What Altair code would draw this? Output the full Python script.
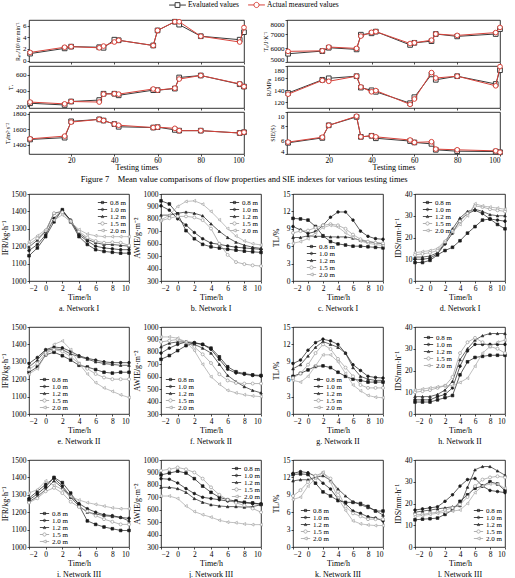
import altair as alt
import pandas as pd

SERIF = "Liberation Serif"

# ---------------- Figure 7: mean values vs testing times ----------------
TEST_TIMES = [1, 17, 20, 33, 35, 40, 42, 58, 60, 68, 70, 80, 98, 100]
RM_EVAL = [1.2, 2.1, 2.4, 2.3, 2.2, 3.6, 3.5, 2.6, 5.2, 6.7, 6.2, 4.2, 3.6, 4.9]
RM_ACT = [1.4, 2.3, 2.4, 2.2, 2.5, 3.2, 3.5, 2.6, 5.2, 6.7, 6.7, 4.2, 3.2, 5.7]
TR_EVAL = [240, 218, 262, 280, 360, 360, 340, 405, 405, 425, 565, 590, 480, 450]
TR_ACT = [255, 232, 262, 255, 355, 360, 355, 420, 405, 430, 545, 590, 485, 450]
TT_EVAL = [1467, 1490, 1700, 1725, 1710, 1665, 1630, 1620, 1625, 1590, 1580, 1580, 1550, 1560]
TT_ACT = [1475, 1510, 1690, 1725, 1710, 1665, 1650, 1620, 1625, 1610, 1580, 1580, 1550, 1560]
TS_EVAL = [5590, 5780, 6020, 5900, 6950, 7050, 7170, 6220, 6370, 6490, 7000, 6830, 7000, 7350]
TS_ACT = [5760, 5800, 6070, 5970, 6850, 7120, 7170, 6320, 6370, 6560, 7000, 6900, 7100, 7470]
RI_EVAL = [135, 157, 159.5, 163, 144, 139.5, 137, 118, 128, 166, 157, 163, 150, 173]
RI_ACT = [133, 156, 154.5, 163, 145, 137, 139, 116, 125, 169, 160, 163, 147, 179]
SIE_EVAL = [5.6, 6.3, 8.1, 9.3, 6.45, 6.6, 6.25, 5.85, 5.65, 5.45, 4.6, 4.4, 4.35, 4.25]
SIE_ACT = [5.7, 6.4, 8.1, 9.4, 6.45, 6.6, 6.45, 6.0, 5.65, 5.75, 4.7, 4.6, 4.45, 4.25]

TOP_SERIES = ["Evaluated values", "Actual measured values"]

# ---------------- Network panels: hourly values per depth ----------------
HOURS = list(range(-2, 11))
DEPTHS = ["0.8 m", "1.0 m", "1.2 m", "1.5 m", "2.0 m"]

IFR_I = [
    [1145, 1190, 1255, 1340, 1410, 1340, 1255, 1210, 1180, 1170, 1165, 1160, 1160],
    [1175, 1210, 1265, 1360, 1405, 1350, 1265, 1230, 1200, 1190, 1185, 1180, 1180],
    [1195, 1235, 1285, 1390, 1400, 1350, 1275, 1240, 1220, 1210, 1210, 1205, 1200],
    [1210, 1245, 1290, 1390, 1395, 1345, 1285, 1250, 1230, 1220, 1222, 1220, 1205],
    [1225, 1260, 1295, 1350, 1380, 1340, 1295, 1270, 1260, 1255, 1255, 1255, 1255],
]
AWIE_I = [
    [945, 920, 840, 705, 640, 595, 575, 565, 555, 548, 540, 535, 530],
    [905, 870, 800, 750, 690, 640, 605, 595, 582, 572, 566, 560, 555],
    [830, 830, 845, 855, 845, 825, 760, 700, 650, 612, 588, 572, 562],
    [785, 805, 820, 820, 812, 790, 722, 600, 510, 452, 436, 426, 420],
    [790, 830, 900, 940, 945, 918, 860, 792, 722, 662, 622, 600, 590],
]
TL_I = [
    [10.8, 10.7, 10.5, 9.4, 7.8, 6.8, 6.4, 6.2, 6.0, 6.0, 5.9, 5.8, 5.7],
    [9.4, 8.8, 8.2, 8.5, 9.6, 11.0, 11.9, 11.9, 10.5, 8.6, 7.7, 7.3, 7.2],
    [7.5, 7.5, 7.8, 7.7, 7.7, 7.6, 7.6, 7.6, 7.4, 7.0, 6.8, 6.6, 6.4],
    [8.3, 8.6, 8.7, 9.2, 9.6, 9.8, 9.6, 9.0, 8.0, 7.2, 6.8, 6.6, 6.5],
    [6.5, 6.8, 7.3, 8.3, 9.2, 9.6, 9.3, 8.3, 7.5, 6.9, 6.5, 6.3, 6.1],
]
IDS_I = [
    [8.5, 8.5, 9.5, 12.0, 14.0, 15.5, 18.5, 22.0, 25.0, 28.0, 28.5, 26.0, 24.0],
    [10.0, 10.0, 10.5, 12.5, 17.0, 22.0, 28.0, 31.0, 32.5, 31.0, 28.5, 28.0, 27.5],
    [11.0, 11.0, 11.5, 13.0, 17.5, 24.0, 29.0, 32.0, 33.0, 32.0, 30.5, 30.0, 30.0],
    [12.0, 12.5, 13.0, 14.0, 18.0, 23.0, 27.5, 31.0, 34.5, 34.0, 33.0, 32.5, 32.0],
    [13.0, 13.5, 14.0, 15.0, 18.5, 22.5, 26.0, 30.0, 35.5, 34.5, 34.0, 33.5, 33.0],
]
IFR_II = [
    [1240, 1270, 1340, 1355, 1335, 1310, 1280, 1270, 1255, 1240, 1235, 1240, 1240],
    [1290, 1325, 1370, 1385, 1380, 1360, 1335, 1320, 1310, 1300, 1295, 1295, 1295],
    [1270, 1310, 1365, 1375, 1370, 1345, 1330, 1315, 1300, 1290, 1285, 1280, 1280],
    [1255, 1290, 1350, 1370, 1360, 1330, 1290, 1260, 1230, 1210, 1200, 1200, 1200],
    [1230, 1260, 1340, 1400, 1420, 1370, 1290, 1230, 1180, 1150, 1130, 1110, 1095],
]
AWIE_II = [
    [740, 770, 810, 850, 870, 860, 830, 760, 680, 640, 625, 615, 610],
    [790, 830, 860, 880, 875, 860, 820, 740, 660, 630, 620, 610, 605],
    [840, 870, 880, 880, 860, 830, 790, 700, 610, 560, 520, 490, 470],
    [880, 890, 900, 880, 840, 780, 710, 620, 570, 550, 545, 545, 545],
    [920, 920, 910, 880, 810, 700, 600, 540, 490, 470, 455, 445, 440],
]
TL_II = [
    [6.5, 7.0, 7.6, 8.2, 8.3, 8.0, 7.2, 6.5, 6.0, 5.8, 5.5, 5.5, 5.5],
    [8.7, 9.3, 11.0, 12.3, 12.9, 12.6, 12.0, 10.5, 8.5, 7.5, 6.5, 6.3, 6.2],
    [7.8, 8.5, 10.0, 11.5, 12.5, 12.0, 11.5, 10.5, 8.0, 6.5, 6.0, 5.8, 5.8],
    [6.2, 7.0, 8.5, 10.5, 12.0, 11.2, 9.5, 8.0, 6.5, 5.0, 4.5, 4.5, 4.5],
    [5.8, 5.5, 6.5, 8.3, 10.2, 10.2, 9.0, 7.0, 5.0, 4.0, 3.2, 2.9, 2.8],
]
IDS_II = [
    [5.5, 5.5, 5.5, 6.5, 7.5, 8.5, 18.0, 24.0, 26.0, 26.5, 27.0, 27.0, 27.0],
    [6.5, 6.5, 6.5, 8.0, 9.0, 12.0, 22.0, 29.0, 32.0, 32.0, 32.0, 32.0, 32.0],
    [8.0, 8.0, 8.0, 9.0, 11.0, 15.0, 25.0, 30.0, 34.0, 36.0, 37.0, 37.0, 37.0],
    [10.0, 10.5, 11.0, 12.0, 13.0, 17.0, 28.0, 33.0, 35.0, 33.0, 31.0, 30.0, 28.0],
    [11.0, 11.5, 12.0, 12.5, 13.0, 13.0, 14.5, 16.5, 22.0, 28.0, 31.0, 33.0, 34.0],
]
IFR_III = [
    [1270, 1305, 1345, 1400, 1370, 1310, 1240, 1150, 1130, 1115, 1105, 1095, 1095],
    [1280, 1320, 1360, 1395, 1350, 1290, 1250, 1220, 1200, 1185, 1180, 1170, 1165],
    [1260, 1290, 1330, 1380, 1340, 1285, 1235, 1200, 1190, 1180, 1175, 1170, 1150],
    [1255, 1280, 1320, 1340, 1310, 1260, 1230, 1205, 1180, 1160, 1145, 1130, 1130],
    [1310, 1330, 1380, 1355, 1330, 1290, 1270, 1255, 1245, 1235, 1225, 1220, 1220],
]
AWIE_III = [
    [880, 895, 910, 895, 850, 790, 740, 700, 680, 670, 660, 655, 645],
    [850, 845, 815, 770, 730, 700, 690, 680, 670, 665, 655, 650, 645],
    [780, 780, 770, 740, 690, 660, 640, 630, 625, 625, 620, 625, 640],
    [915, 925, 940, 925, 900, 850, 780, 720, 680, 655, 635, 610, 580],
    [710, 710, 690, 630, 585, 560, 540, 515, 500, 495, 485, 480, 480],
]
TL_III = [
    [12.5, 12.6, 12.5, 11.0, 9.5, 8.8, 8.0, 7.7, 7.7, 7.5, 7.0, 6.2, 6.2],
    [12.7, 13.0, 12.8, 12.2, 11.0, 10.0, 8.3, 7.5, 6.2, 5.8, 5.2, 5.0, 4.5],
    [11.4, 11.6, 11.6, 12.0, 12.3, 11.5, 10.0, 8.8, 7.8, 7.3, 6.8, 6.3, 5.5],
    [8.8, 9.8, 11.2, 12.3, 12.8, 11.8, 9.5, 7.0, 5.8, 5.3, 4.8, 4.8, 4.8],
    [8.2, 8.6, 10.5, 11.8, 12.9, 11.2, 8.5, 6.3, 4.5, 4.0, 3.8, 3.7, 3.7],
]
IDS_III = [
    [12.5, 12.8, 13.0, 13.3, 15.0, 17.0, 21.0, 24.0, 27.0, 28.0, 30.0, 29.0, 26.0],
    [17.0, 17.5, 18.0, 18.5, 21.0, 24.0, 28.0, 31.0, 31.5, 28.0, 26.0, 25.5, 25.0],
    [16.0, 16.5, 17.0, 17.5, 18.0, 18.5, 19.0, 27.5, 35.5, 37.0, 37.0, 35.0, 33.0],
    [15.0, 15.0, 15.5, 16.0, 17.0, 18.0, 19.5, 23.0, 28.0, 31.0, 32.0, 32.5, 32.0],
    [14.0, 14.5, 15.0, 15.5, 16.0, 16.5, 17.0, 20.0, 25.0, 28.0, 29.0, 29.0, 27.0],
]

# ---------------- styles ----------------
TOP_COLORS = ["#3a3a3a", "#d8433b"]
TOP_MARKERS = ["square", "circle"]
# legend keys: a short line with the series marker in its middle
TOP_KEYS = [
    "M-2.1,0H-0.6M0.6,0H2.1M-0.6,-0.6H0.6V0.6H-0.6Z",
    "M-2.1,0H-0.65M0.65,0H2.1M-0.65,0A0.65,0.65 0 1,0 0.65,0A0.65,0.65 0 1,0 -0.65,0Z",
]
DEPTH_COLORS = ["#1a1a1a", "#1a1a1a", "#2a2a2a", "#9a9a9a", "#a5a5a5"]
DEPTH_MARKERS = [
    dict(shape="square", fill="#1a1a1a", size=7),
    dict(shape="circle", fill="#1a1a1a", size=7),
    dict(shape="triangle-up", fill="#2a2a2a", size=7),
    dict(shape="circle", fill="white", size=9),
    dict(shape="triangle-left", fill="white", size=9),
]
DEPTH_KEYS = [
    "M-1.7,0H1.7M-0.4,-0.4H0.4V0.4H-0.4Z",
    "M-1.7,0H1.7M-0.42,0A0.42,0.42 0 1,0 0.42,0A0.42,0.42 0 1,0 -0.42,0Z",
    "M-1.7,0H1.7M-0.45,0.4L0,-0.45L0.45,0.4Z",
    "M-1.7,0H-0.6M0.6,0H1.7M-0.6,0A0.6,0.6 0 1,0 0.6,0A0.6,0.6 0 1,0 -0.6,0Z",
    "M-1.7,0H-0.55M0.55,0H1.7M0.6,-0.55L-0.6,0L0.6,0.55Z",
]


def key_layer(base, domain, colors, keys, legend):
    # carries only the legend; its own marks stay transparent
    return base.mark_point(filled=False, opacity=0, strokeWidth=1).encode(
        color=alt.Color("s:N", scale=alt.Scale(domain=domain, range=colors), legend=legend),
        shape=alt.Shape("s:N", scale=alt.Scale(domain=domain, range=keys), legend=legend),
    )


def top_panel(ev, ac, ytitle, ydomain, yticks, width, last_row, key=False):
    n = len(TEST_TIMES)
    df = pd.DataFrame({
        "n": TEST_TIMES * 2,
        "v": ev + ac,
        "s": [TOP_SERIES[0]] * n + [TOP_SERIES[1]] * n,
    })
    xaxis = alt.Axis(values=[20, 40, 60, 80, 100], labels=last_row, format="d",
                     title="Testing times" if last_row else None, labelPadding=0, titlePadding=0)
    base = alt.Chart(df).encode(
        x=alt.X("n:Q", scale=alt.Scale(domain=[0.5, 100], nice=False, zero=False), axis=xaxis),
        y=alt.Y("v:Q", scale=alt.Scale(domain=ydomain, nice=False, zero=False),
                axis=alt.Axis(values=yticks, title=ytitle, format="d", titleFontSize=6,
                              labelFontSize=7, labelFlush=True)),
    )
    layers = []
    for name, col, shp in zip(TOP_SERIES, TOP_COLORS, TOP_MARKERS):
        sub = base.transform_filter(alt.datum.s == name)
        layers.append(sub.mark_line(strokeWidth=1, stroke=col))
        layers.append(sub.mark_point(shape=shp, size=22, strokeWidth=1, stroke=col, fill="white", opacity=1))
    if key:
        leg = alt.Legend(orient="none", legendX=144, legendY=-20, direction="horizontal", title=None,
                         labelFontSize=7.5, symbolSize=64, symbolStrokeWidth=1, symbolOpacity=1,
                         labelOffset=6, columnPadding=6, padding=0)
        layers.append(key_layer(base, TOP_SERIES, TOP_COLORS, TOP_KEYS, leg))
    return alt.layer(*layers).properties(width=width, height=42)


def bottom_panel(rows, ytitle, ydomain, ystep, caption, width, legend_xy):
    df = pd.DataFrame({
        "t": HOURS * len(DEPTHS),
        "v": [v for row in rows for v in row],
        "s": [d for d in DEPTHS for _ in HOURS],
    })
    yticks = list(range(ydomain[0], ydomain[1] + 1, ystep))
    base = alt.Chart(df).encode(
        x=alt.X("t:Q", scale=alt.Scale(domain=[-2, 10], nice=False, zero=False),
                axis=alt.Axis(values=list(range(-2, 11, 2)), format="d", title="Time/h")),
        y=alt.Y("v:Q", scale=alt.Scale(domain=ydomain, nice=False, zero=False),
                axis=alt.Axis(values=yticks, format="d", title=ytitle)),
    )
    layers = []
    for name, col, mk in zip(DEPTHS, DEPTH_COLORS, DEPTH_MARKERS):
        sub = base.transform_filter(alt.datum.s == name)
        layers.append(sub.mark_line(strokeWidth=0.7, stroke=col))
        layers.append(sub.mark_point(shape=mk["shape"], size=mk["size"], fill=mk["fill"],
                                     stroke=col, strokeWidth=0.7, opacity=1))
    lx, ly = legend_xy
    leg = alt.Legend(orient="none", legendX=lx, legendY=ly, title=None, labelFontSize=7,
                     symbolSize=30, symbolStrokeWidth=0.8, symbolOpacity=1, labelOffset=4,
                     rowPadding=-2, padding=0)
    layers.append(key_layer(base, DEPTHS, DEPTH_COLORS, DEPTH_KEYS, leg))
    return alt.layer(*layers).properties(
        width=width, height=87,
        title=alt.TitleParams(caption, orient="bottom", offset=3, fontSize=8),
    )


LW, RW = 215, 213
top_grid = alt.concat(
    top_panel(RM_EVAL, RM_ACT, "Rₘ/10³ m·min⁻¹", [-0.25, 7], [0, 2, 4, 6], LW, False, key=True),
    top_panel(TS_EVAL, TS_ACT, "Tₛ/J·K⁻¹", [5000, 8000], [5000, 6000, 7000, 8000], RW, False),
    top_panel(TR_EVAL, TR_ACT, "Tᵣ", [180, 710], [200, 400, 600], LW, False),
    top_panel(RI_EVAL, RI_ACT, "Rᵢ/MPa", [110, 180], [120, 140, 160, 180], RW, False),
    top_panel(TT_EVAL, TT_ACT, "Tₜ/m²·s⁻²", [1280, 1820], [1400, 1600, 1800], LW, True),
    top_panel(SIE_EVAL, SIE_ACT, "SIE(S)", [4, 10], [4, 6, 8, 10], RW, True),
    columns=2, spacing={"row": 4, "column": 43}, bounds="flush",
    title=alt.TitleParams(
        "Figure 7\u00a0\u00a0\u00a0\u00a0Mean value comparisons of flow properties and SIE indexes for various testing times",
        orient="bottom", anchor="middle", offset=3, fontSize=8.5, dx=-10),
).resolve_scale(x="independent", y="independent")

IFR_T, AWIE_T, TL_T, IDS_T = "IFR/kg·h⁻¹", "AWIE/g·m⁻²", "TL/%", "IDS/mm·h⁻¹"
W1, W2, W3, W4 = 100, 100, 90, 90
bottom_grid = alt.concat(
    bottom_panel(IFR_I, IFR_T, [1000, 1500], 100, "a. Network I", W1, (70, 5)),
    bottom_panel(AWIE_I, AWIE_T, [300, 1000], 100, "b. Network I", W2, (70, 5)),
    bottom_panel(TL_I, TL_T, [0, 15], 3, "c. Network I", W3, (15, 49)),
    bottom_panel(IDS_I, IDS_T, [0, 40], 10, "d. Network I", W4, (9, 5)),
    bottom_panel(IFR_II, IFR_T, [1000, 1500], 100, "e. Network II", W1, (12, 49)),
    bottom_panel(AWIE_II, AWIE_T, [300, 1000], 100, "f. Network II", W2, (6, 49)),
    bottom_panel(TL_II, TL_T, [0, 15], 3, "g. Network II", W3, (22, 49)),
    bottom_panel(IDS_II, IDS_T, [0, 40], 10, "h. Network II", W4, (10, 7)),
    bottom_panel(IFR_III, IFR_T, [1000, 1500], 100, "i. Network III", W1, (12, 50)),
    bottom_panel(AWIE_III, AWIE_T, [300, 1000], 100, "j. Network III", W2, (72, 5)),
    bottom_panel(TL_III, TL_T, [0, 15], 3, "k. Network III", W3, (9, 47)),
    bottom_panel(IDS_III, IDS_T, [0, 40], 10, "l. Network III", W4, (60, 47)),
    columns=4, spacing={"row": 46, "column": 32}, bounds="flush",
).resolve_scale(x="independent", y="independent", color="independent", shape="independent")

chart = alt.vconcat(top_grid, bottom_grid, spacing=5).resolve_scale(
    color="independent", shape="independent"
).properties(
    padding={"left": 0, "top": 0, "right": 0, "bottom": 0}, background="white"
).configure_view(
    stroke="black", strokeWidth=0.8
).configure_axis(
    grid=False, domain=False, labelFont=SERIF, titleFont=SERIF, labelFontSize=7.5,
    titleFontSize=8, titleFontWeight="normal", labelColor="black", titleColor="black",
    tickColor="black", tickSize=2, tickWidth=0.7, labelPadding=1, titlePadding=2,
).configure_title(
    font=SERIF, fontWeight="normal", color="black"
).configure_legend(
    labelFont=SERIF, labelColor="black"
)

chart.save("out.html", embed_options={"renderer": "svg", "actions": False})
